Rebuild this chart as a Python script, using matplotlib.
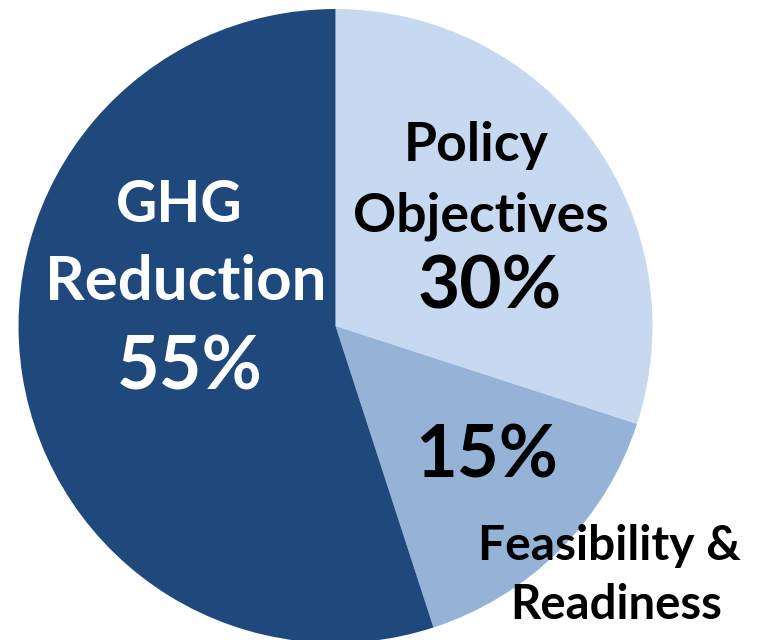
import matplotlib
matplotlib.use("Agg")
import matplotlib.pyplot as plt

categories = ["Policy Objectives", "Feasibility & Readiness", "GHG Reduction"]
shares = [30, 15, 55]
colors = ["#C6D9F1", "#95B3D7", "#1F497D"]

W, H = 761, 640
fig = plt.figure(figsize=(W / 100, H / 100), dpi=100)
ax = fig.add_axes([0, 0, 1, 1])

cx, cy, r = 335.5, H - 326, 317
ax.pie(shares, colors=colors, startangle=90, counterclock=False,
       center=(cx, cy), radius=r, frame=True,
       wedgeprops=dict(linewidth=0))
ax.set_xlim(0, W)
ax.set_ylim(0, H)
ax.set_aspect("equal")
ax.axis("off")

font = ["Lato", "DejaVu Sans"]

def t(x, y, s, size, color="black"):
    ax.text(x, H - y, s, fontsize=size, fontweight="bold", color=color,
            ha="center", va="center", family=font)

t(476, 145, "Policy", 38.5)
t(481, 216, "Objectives", 38.5)
t(490, 288, f"{shares[0]}%", 52.5)
t(179, 206, "GHG", 41, "white")
t(186, 282, "Reduction", 44.5, "white")
t(190, 368, f"{shares[2]}%", 53, "white")
t(487, 457, f"{shares[1]}%", 52)
t(609, 546, "Feasibility &", 34.5)
t(616, 605, "Readiness", 34)

fig.savefig("out.png", dpi=100)
